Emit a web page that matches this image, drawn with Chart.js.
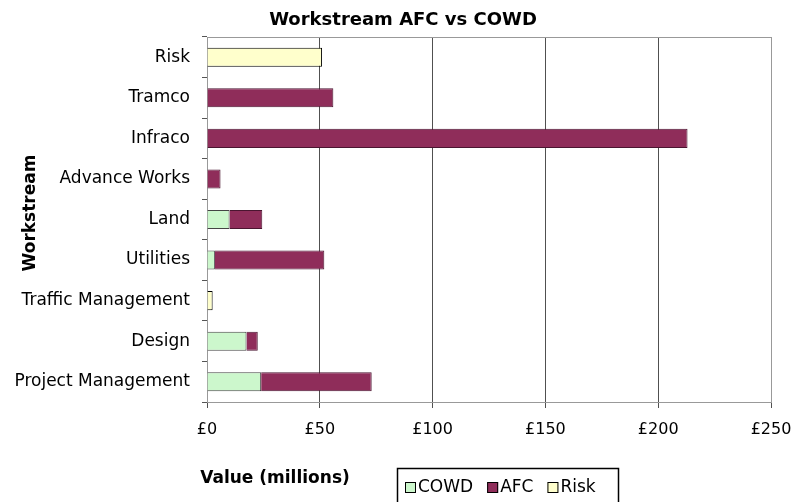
<!DOCTYPE html>
<html>
<head>
<meta charset="utf-8">
<script src="https://cdn.jsdelivr.net/npm/chart.js@4.4.1/dist/chart.umd.min.js"></script>
<style>
  html, body { margin: 0; padding: 0; background: #fff; }
  #wrap { width: 793px; height: 502px; }
</style>
</head>
<body>
<div id="wrap"><canvas id="workstreamChart" width="793" height="502"></canvas></div>
<script>
var categories = ["Risk", "Tramco", "Infraco", "Advance Works", "Land", "Utilities",
  "Traffic Management", "Design", "Project Management"];
var cowdValues = [null, null, null, null, 10, 3.5, null, 17.5, 24];
var afcValues = [null, 56, 213, 6, 14.5, 48.5, null, 5, 49];
var riskValues = [51, null, null, null, null, null, 2.5, null, null];
var xTicks = [0, 50, 100, 150, 200, 250];

var FONT = "'DejaVu Sans', sans-serif";

// title, axis titles, legend box and plot border drawn by hand
var extras = {
  id: 'extras',
  beforeDatasetsDraw: function (chart) {
    var ctx = chart.ctx, a = chart.chartArea;
    ctx.save();
    ctx.strokeStyle = '#999';
    ctx.lineWidth = 1;
    ctx.strokeRect(a.left + 0.5, a.top + 0.5, a.right - a.left, a.bottom - a.top);
    ctx.restore();
  },
  afterDraw: function (chart) {
    var ctx = chart.ctx;
    ctx.save();
    ctx.fillStyle = '#000';
    ctx.textAlign = 'center';
    ctx.textBaseline = 'middle';
    ctx.font = 'bold 18px ' + FONT;
    ctx.fillText('Workstream AFC vs COWD', 403, 20);

    ctx.font = 'bold 17px ' + FONT;
    ctx.fillText('Value (millions)', 275, 479);

    ctx.translate(31, 213);
    ctx.rotate(-Math.PI / 2);
    ctx.fillText('Workstream', 0, 0);
    ctx.restore();

    // legend
    ctx.save();
    ctx.strokeStyle = '#000';
    ctx.lineWidth = 1.5;
    ctx.strokeRect(397.5, 468.5, 221, 40);
    ctx.font = '17px ' + FONT;
    ctx.textBaseline = 'middle';
    ctx.textAlign = 'left';
    var x = 405;
    chart.data.datasets.forEach(function (ds) {
      ctx.fillStyle = ds.backgroundColor;
      ctx.fillRect(x, 482, 11, 11);
      ctx.strokeStyle = '#000';
      ctx.lineWidth = 1;
      ctx.strokeRect(x + 0.5, 482.5, 10, 10);
      ctx.fillStyle = '#000';
      ctx.fillText(ds.label, x + 13, 488);
      x += 13 + ctx.measureText(ds.label).width + 14;
    });
    ctx.restore();
  }
};

var ctx = document.getElementById('workstreamChart').getContext('2d');

var chart = new Chart(ctx, {
  type: 'bar',
  data: {
    labels: categories,
    datasets: [
      { label: 'COWD', data: cowdValues, backgroundColor: '#ccf7cc', borderColor: '#444', borderWidth: 1 },
      { label: 'AFC', data: afcValues, backgroundColor: '#8f2d5a', borderColor: '#4a1530', borderWidth: 1 },
      { label: 'Risk', data: riskValues, backgroundColor: '#ffffcc', borderColor: '#000', borderWidth: 1 }
    ]
  },
  options: {
    indexAxis: 'y',
    responsive: false,
    animation: false,
    layout: { padding: { left: 0, right: 22, top: 37, bottom: 0 } },
    datasets: { bar: { categoryPercentage: 1, barPercentage: 0.47 } },
    plugins: {
      legend: { display: false },
      tooltip: { enabled: false },
      title: { display: false }
    },
    scales: {
      x: {
        stacked: true,
        min: 0,
        max: 250,
        afterFit: function (scale) {
          scale.height = 100;
          scale.paddingLeft = 0;
          scale.paddingRight = 0;
        },
        afterBuildTicks: function (scale) {
          scale.ticks = xTicks.map(function (v) { return { value: v }; });
        },
        grid: { color: '#505050', lineWidth: 1, tickLength: 6, tickColor: '#505050' },
        border: { color: '#707070', width: 1 },
        ticks: {
          color: '#000',
          padding: 12,
          font: { family: FONT, size: 16 },
          callback: function (v) { return '£' + v; }
        }
      },
      y: {
        stacked: true,
        afterFit: function (scale) {
          scale.width = 207;
          scale.paddingTop = 0;
          scale.paddingBottom = 0;
        },
        grid: { drawOnChartArea: false, tickLength: 5, tickColor: '#555' },
        border: { color: '#000', width: 1 },
        ticks: {
          color: '#000',
          padding: 12,
          font: { family: FONT, size: 17 }
        }
      }
    }
  },
  plugins: [extras]
});
</script>
</body>
</html>
